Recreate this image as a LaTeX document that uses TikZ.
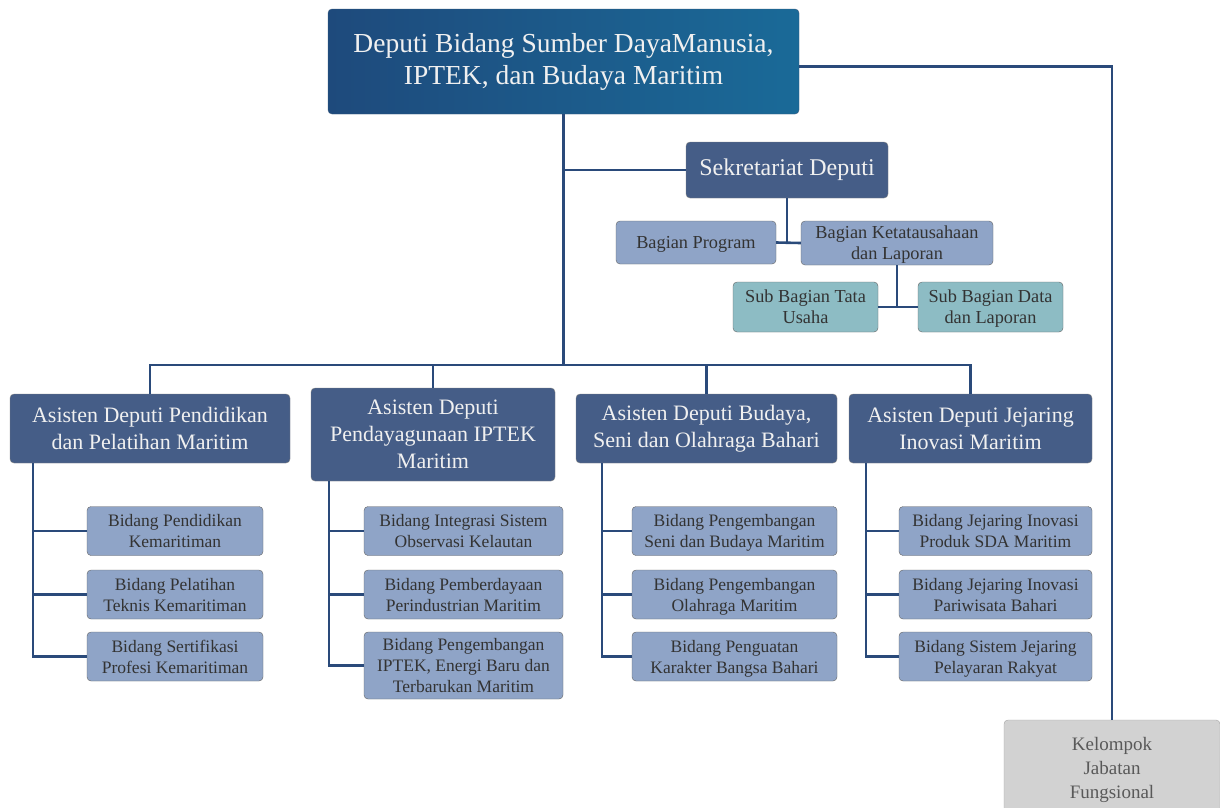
\documentclass[tikz,border=0pt]{standalone}
\usepackage{fontspec}
\setmainfont{Liberation Serif}
\usetikzlibrary{positioning}

\definecolor{deptop}{RGB}{30,74,124}
\definecolor{deptopr}{RGB}{26,106,152}
\definecolor{asfill}{RGB}{69,93,135}
\definecolor{bidfill}{RGB}{143,164,199}
\definecolor{subfill}{RGB}{141,188,196}
\definecolor{kelfill}{RGB}{210,210,210}
\definecolor{linkcol}{RGB}{42,74,122}
\definecolor{txtdark}{RGB}{51,51,51}

\begin{document}
\begin{tikzpicture}[
  x=1pt, y=-1pt,
  every node/.style={inner sep=2pt, align=center, rounded corners=4pt},
  topbox/.style={left color=deptop, right color=deptopr, draw=deptop!70!gray,
    text=white!94!black, minimum width=471pt, minimum height=105pt,
    font=\fontsize{27.5}{32}\selectfont},
  sekbox/.style={fill=asfill, draw=gray, text=white!94!black,
    minimum width=202pt, minimum height=56pt, font=\fontsize{24}{28}\selectfont},
  asbox/.style={fill=asfill, draw=gray, text=white!94!black,
    minimum height=69pt, font=\fontsize{22}{27}\selectfont},
  bidbox/.style={fill=bidfill, draw=gray!80!black, text=txtdark, text depth=0pt,
    minimum height=49pt, font=\fontsize{17.5}{21}\selectfont},
  bagbox/.style={bidbox, font=\fontsize{18.3}{21}\selectfont},
  subbox/.style={fill=subfill, draw=gray!80!black, text=txtdark, text depth=0pt,
    minimum width=145pt, minimum height=50pt, font=\fontsize{18.3}{21}\selectfont},
  kelbox/.style={fill=kelfill, draw=gray!70, text=black!65,
    minimum width=216pt, minimum height=96pt, font=\fontsize{19}{24}\selectfont},
  link/.style={draw=linkcol, line width=2.6pt},
  ]
  \useasboundingbox[fill=white] (0,0) rectangle (1220,807);

  % top level
  \node[topbox] (dep) at (563.5,61.5) {Deputi Bidang Sumber DayaManusia,\\IPTEK, dan Budaya Maritim};
  \node[kelbox, text depth=0pt] (kel) at (1112,768) {Kelompok\\Jabatan\\Fungsional};

  % sekretariat
  \node[sekbox] (sek) at (787,170) {Sekretariat Deputi};
  \node[bagbox, minimum width=160pt, minimum height=43pt] (bprog) at (696,242.5) {Bagian Program};
  \node[bagbox, minimum width=192pt, minimum height=44pt] (bket) at (897,243) {Bagian Ketatausahaan\\dan Laporan};
  \node[subbox] (subtu) at (805.5,307) {Sub Bagian Tata\\Usaha};
  \node[subbox] (subdat) at (990.5,307) {Sub Bagian Data\\dan Laporan};

  % asisten deputi
  \coordinate (bus) at (0,365);
  \node[asbox, minimum width=280pt] (as1) at (150,428.5) {Asisten Deputi Pendidikan\\dan Pelatihan Maritim};
  \node[asbox, minimum width=244pt, minimum height=93pt] (as2) at (433,434.5) {Asisten Deputi\\Pendayagunaan IPTEK\\Maritim};
  \node[asbox, minimum width=261pt] (as3) at (706.5,428.5) {Asisten Deputi Budaya,\\Seni dan Olahraga Bahari};
  \node[asbox, minimum width=243pt] (as4) at (970.5,428.5) {Asisten Deputi Jejaring\\Inovasi Maritim};

  % bidang
  \node[bidbox, minimum width=176pt] (b11) at (175,531) {Bidang Pendidikan\\Kemaritiman};
  \node[bidbox, minimum width=176pt] (b12) at (175,594.5) {Bidang Pelatihan\\Teknis Kemaritiman};
  \node[bidbox, minimum width=176pt] (b13) at (175,656.5) {Bidang Sertifikasi\\Profesi Kemaritiman};

  \node[bidbox, minimum width=199pt] (b21) at (463.5,531) {Bidang Integrasi Sistem\\Observasi Kelautan};
  \node[bidbox, minimum width=199pt] (b22) at (463.5,594.5) {Bidang Pemberdayaan\\Perindustrian Maritim};
  \node[bidbox, minimum width=199pt, minimum height=67pt] (b23) at (463.5,665.5) {Bidang Pengembangan\\IPTEK, Energi Baru dan\\Terbarukan Maritim};

  \node[bidbox, minimum width=205pt] (b31) at (734.5,531) {Bidang Pengembangan\\Seni dan Budaya Maritim};
  \node[bidbox, minimum width=205pt] (b32) at (734.5,594.5) {Bidang Pengembangan\\Olahraga Maritim};
  \node[bidbox, minimum width=205pt] (b33) at (734.5,656.5) {Bidang Penguatan\\Karakter Bangsa Bahari};

  \node[bidbox, minimum width=193pt] (b41) at (995.5,531) {Bidang Jejaring Inovasi\\Produk SDA Maritim};
  \node[bidbox, minimum width=193pt] (b42) at (995.5,594.5) {Bidang Jejaring Inovasi\\Pariwisata Bahari};
  \node[bidbox, minimum width=193pt] (b43) at (995.5,656.5) {Bidang Sistem Jejaring\\Pelayaran Rakyat};

  % connectors
  \draw[link] ([yshift=-5pt]dep.east) -| (kel.north);
  \draw[link] (dep.south) -- (dep.south |- bus);
  \draw[link] (sek.west) -- (sek.west -| dep.south);
  \draw[link] (sek.south) -- (sek.south |- bprog.east);
  \draw[link] (bprog.east) -- (bket.west);
  \draw[link] (bket.south) -- (bket.south |- subtu.east);
  \draw[link] (subtu.east) -- (subdat.west);

  \draw[link] (as1.north) -- (as1.north |- bus) -| (as4.north);
  \draw[link] (as2.north) -- (as2.north |- bus);
  \draw[link] (as3.north) -- (as3.north |- bus);

  \draw[link] ([xshift=23pt]as1.south west) |- (b13.west);
  \draw[link] ([xshift=23pt]as1.south west |- b11.west) -- (b11.west);
  \draw[link] ([xshift=23pt]as1.south west |- b12.west) -- (b12.west);

  \draw[link] ([xshift=18pt]as2.south west) |- (b23.west);
  \draw[link] ([xshift=18pt]as2.south west |- b21.west) -- (b21.west);
  \draw[link] ([xshift=18pt]as2.south west |- b22.west) -- (b22.west);

  \draw[link] ([xshift=26pt]as3.south west) |- (b33.west);
  \draw[link] ([xshift=26pt]as3.south west |- b31.west) -- (b31.west);
  \draw[link] ([xshift=26pt]as3.south west |- b32.west) -- (b32.west);

  \draw[link] ([xshift=17pt]as4.south west) |- (b43.west);
  \draw[link] ([xshift=17pt]as4.south west |- b41.west) -- (b41.west);
  \draw[link] ([xshift=17pt]as4.south west |- b42.west) -- (b42.west);
\end{tikzpicture}
\end{document}
